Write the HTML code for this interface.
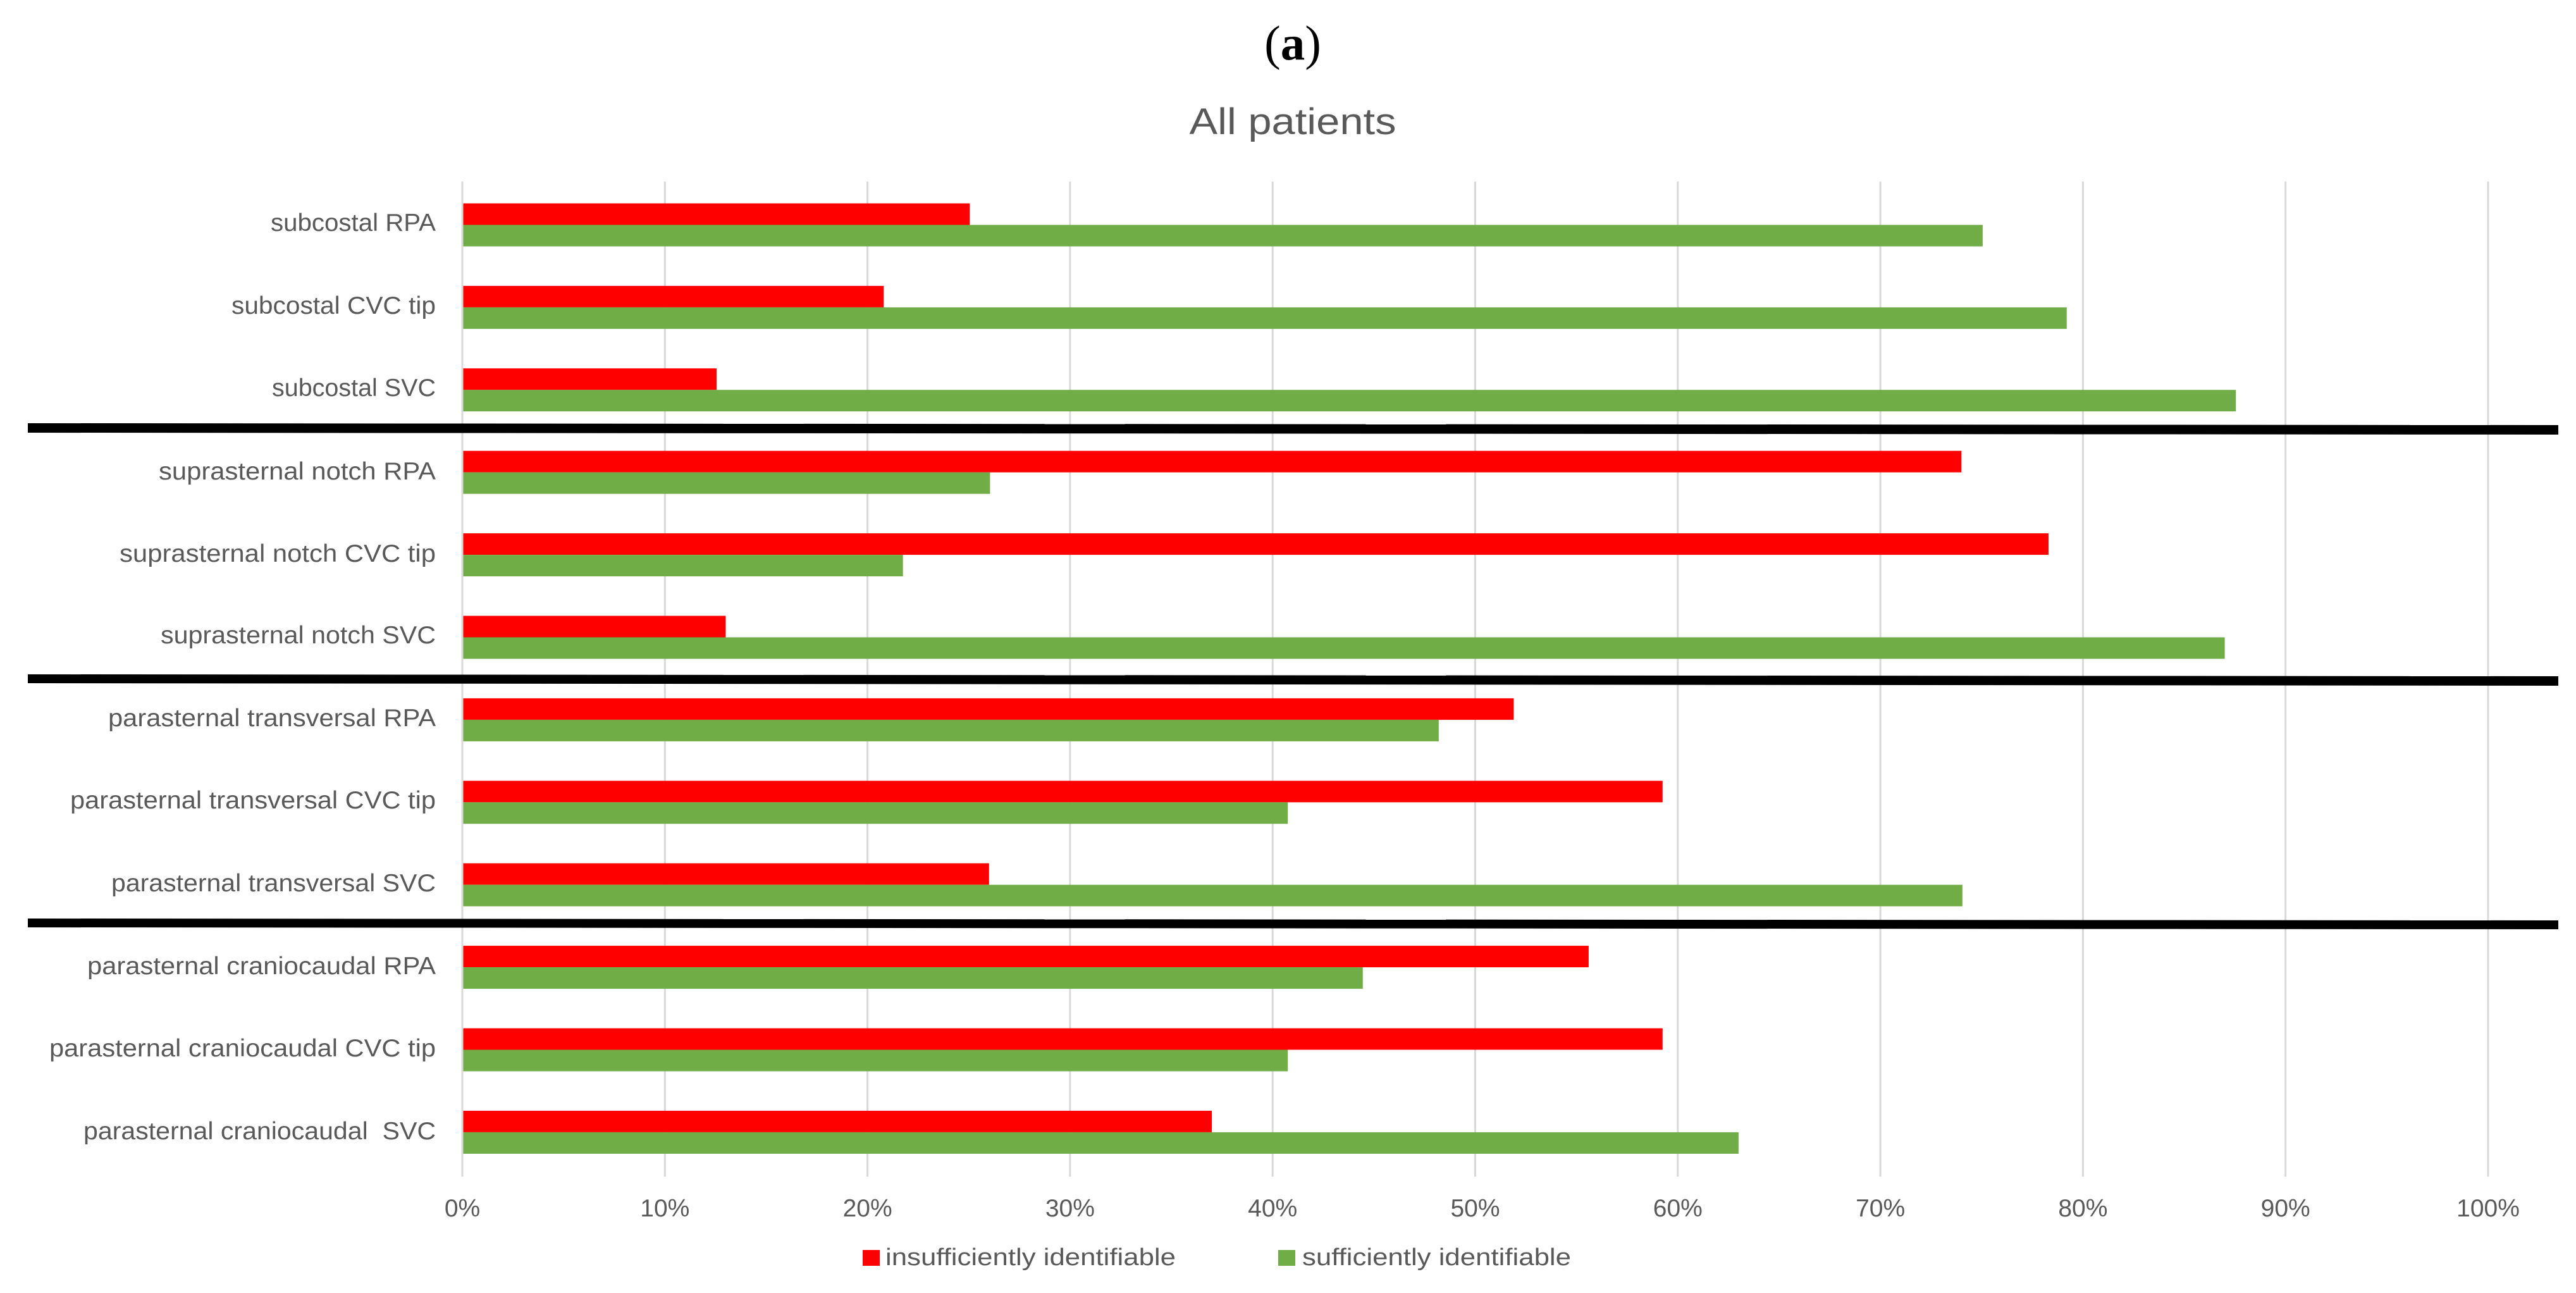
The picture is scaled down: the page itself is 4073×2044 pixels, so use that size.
<!DOCTYPE html>
<html lang="en">
<head>
<meta charset="utf-8">
<title>All patients</title>
<style>
html,body{margin:0;padding:0;background:#fff;width:4073px;height:2044px;overflow:hidden}
svg{display:block}
text{font-family:"Liberation Sans",sans-serif;fill:#595959}
</style>
</head>
<body>
<svg id="chart" xmlns="http://www.w3.org/2000/svg" width="4073" height="2044" viewBox="0 0 4073 2044">
  <rect x="0" y="0" width="4073" height="2044" fill="#ffffff"/>
  <text x="2044" y="94" text-anchor="middle" font-size="77" style="font-family:'Liberation Serif',serif;fill:#000">(<tspan font-weight="bold">a</tspan>)</text>
  <text x="2044" y="212" text-anchor="middle" font-size="58" textLength="327" lengthAdjust="spacingAndGlyphs">All patients</text>
  <g id="grid"></g>
  <g id="bars"></g>
  <g id="ticks"></g>
  <g font-size="39" text-anchor="end">
    <text x="689" y="365" textLength="261" lengthAdjust="spacingAndGlyphs">subcostal RPA</text>
    <text x="689" y="496" textLength="323" lengthAdjust="spacingAndGlyphs">subcostal CVC tip</text>
    <text x="689" y="626" textLength="259" lengthAdjust="spacingAndGlyphs">subcostal SVC</text>
    <text x="689" y="758" textLength="438" lengthAdjust="spacingAndGlyphs">suprasternal notch RPA</text>
    <text x="689" y="888" textLength="500" lengthAdjust="spacingAndGlyphs">suprasternal notch CVC tip</text>
    <text x="689" y="1017" textLength="435" lengthAdjust="spacingAndGlyphs">suprasternal notch SVC</text>
    <text x="689" y="1148" textLength="518" lengthAdjust="spacingAndGlyphs">parasternal transversal RPA</text>
    <text x="689" y="1278" textLength="578" lengthAdjust="spacingAndGlyphs">parasternal transversal CVC tip</text>
    <text x="689" y="1409" textLength="513" lengthAdjust="spacingAndGlyphs">parasternal transversal SVC</text>
    <text x="689" y="1540" textLength="551" lengthAdjust="spacingAndGlyphs">parasternal craniocaudal RPA</text>
    <text x="689" y="1670" textLength="611" lengthAdjust="spacingAndGlyphs">parasternal craniocaudal CVC tip</text>
    <text x="689" y="1801" textLength="557" lengthAdjust="spacingAndGlyphs" xml:space="preserve">parasternal craniocaudal  SVC</text>
  </g>
  <g fill="#000000">
    <polygon points="44,669 4045,672 4045,687 44,684"/>
    <polygon points="44,1066 4045,1069 4045,1084 44,1080"/>
    <polygon points="44,1452 4045,1455 4045,1469 44,1466"/>
  </g>
  <g font-size="38">
    <rect x="1364" y="1976" width="27" height="25" fill="#ff0000"/>
    <text x="1400" y="2000" textLength="459" lengthAdjust="spacingAndGlyphs">insufficiently identifiable</text>
    <rect x="2021" y="1976" width="27" height="25" fill="#70ad47"/>
    <text x="2059" y="2000" textLength="425" lengthAdjust="spacingAndGlyphs">sufficiently identifiable</text>
  </g>
</svg>
<script>
const categories = [
  "subcostal RPA", "subcostal CVC tip", "subcostal SVC",
  "suprasternal notch RPA", "suprasternal notch CVC tip", "suprasternal notch SVC",
  "parasternal transversal RPA", "parasternal transversal CVC tip", "parasternal transversal SVC",
  "parasternal craniocaudal RPA", "parasternal craniocaudal CVC tip", "parasternal craniocaudal SVC"
];
const insufficient = [25.05, 20.8, 12.55, 74, 78.3, 13, 51.9, 59.25, 26, 55.6, 59.25, 37];
const sufficient = [75.05, 79.2, 87.55, 26.05, 21.75, 87, 48.2, 40.75, 74.05, 44.45, 40.75, 63];
const tickValues = [0, 10, 20, 30, 40, 50, 60, 70, 80, 90, 100];

const SVG_NS = "http://www.w3.org/2000/svg";
const PLOT_LEFT = 731, PLOT_UNIT = 32.03;
const PLOT_TOP = 290.3, BAND = 130.4, BAR_H = 34;
function xScale(v) { return PLOT_LEFT + v * PLOT_UNIT; }
function bandCenter(i) { return PLOT_TOP + BAND * (i + 0.5); }
function slug(s) { return s.toLowerCase().replace(/\s+/g, "-"); }

const gridG = document.getElementById("grid");
const ticksG = document.getElementById("ticks");
tickValues.forEach(function (v) {
  const line = document.createElementNS(SVG_NS, "line");
  
  
  line.setAttribute("x1", xScale(v));
  line.setAttribute("x2", xScale(v));
  line.setAttribute("y1", 287);
  line.setAttribute("y2", 1860);
  line.setAttribute("stroke", "#d9d9d9");
  line.setAttribute("stroke-width", 3);
  gridG.appendChild(line);

  const label = document.createElementNS(SVG_NS, "text");
  
  
  label.setAttribute("x", xScale(v));
  label.setAttribute("y", 1923);
  label.setAttribute("text-anchor", "middle");
  label.setAttribute("font-size", 39);
  label.textContent = v + "%";
  ticksG.appendChild(label);
});

const barsG = document.getElementById("bars");
categories.forEach(function (cat, i) {
  const red = document.createElementNS(SVG_NS, "rect");
  
  
  red.setAttribute("x", xScale(0) + 1.5);
  red.setAttribute("y", bandCenter(i) - BAR_H);
  red.setAttribute("width", xScale(insufficient[i]) - xScale(0) - 1.5);
  red.setAttribute("height", BAR_H);
  red.setAttribute("fill", "#ff0000");
  barsG.appendChild(red);

  const green = document.createElementNS(SVG_NS, "rect");
  
  
  green.setAttribute("x", xScale(0) + 1.5);
  green.setAttribute("y", bandCenter(i));
  green.setAttribute("width", xScale(sufficient[i]) - xScale(0) - 1.5);
  green.setAttribute("height", BAR_H);
  green.setAttribute("fill", "#70ad47");
  barsG.appendChild(green);
});
</script>
</body>
</html>
